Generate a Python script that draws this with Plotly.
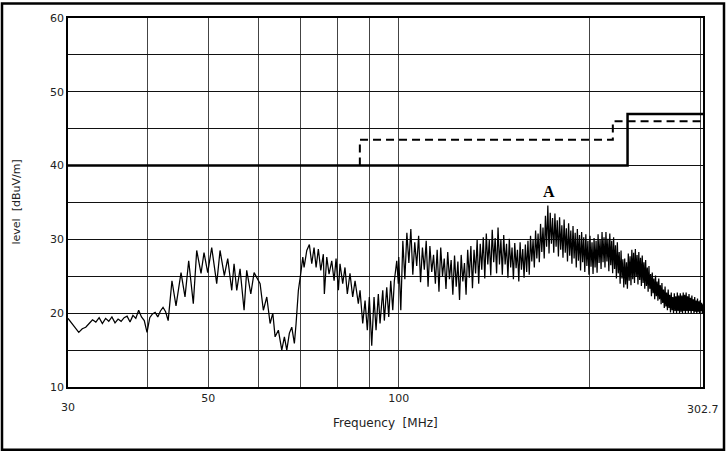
import numpy as np
import plotly.graph_objects as go

# emission trace, 30 - 100 MHz (read point by point)
freq_lo = [30.0, 30.4, 30.8, 31.2, 31.6, 32.0, 32.4, 32.8, 33.2, 33.6,
           34.0, 34.4, 34.8, 35.2, 35.6, 36.0, 36.4, 36.8, 37.2, 37.6,
           38.0, 38.4, 38.8, 39.2, 39.6, 40.0, 40.4, 40.8, 41.2, 41.6,
           42.0, 42.4, 42.8, 43.2,
           43.80, 44.45, 45.27, 45.93, 46.55, 47.34, 47.93, 48.69, 49.22, 49.89,
           50.62, 51.55, 52.18, 53.00, 53.66, 54.45, 54.91, 55.45, 56.12, 56.95,
           57.50, 58.36, 59.06, 60.37, 61.09, 61.86, 62.61, 63.23, 63.76, 64.52,
           65.33, 65.95, 66.53, 67.16, 67.75, 68.39, 68.82, 69.40, 70.00, 70.52,
           70.85, 71.55, 72.23, 72.86, 73.47, 74.02, 74.63, 75.29, 76.00, 76.28,
           76.95, 77.59, 78.36, 79.03, 79.60, 80.28, 80.75, 81.55, 82.23, 82.93,
           83.74, 84.57, 85.30, 86.32, 86.86, 87.71, 88.46, 89.19, 89.85, 90.64,
           91.40, 92.07, 92.84, 93.42, 94.35, 94.89, 95.73, 96.42, 97.13, 97.85,
           98.41, 99.28, 99.85]
level_lo = [19.3, 18.6, 18.0, 17.4, 17.9, 18.1, 18.6, 19.1, 18.8, 19.4,
            18.6, 19.3, 18.9, 19.5, 18.7, 19.2, 18.9, 19.4, 19.6, 18.8,
            19.7, 19.3, 20.4, 19.5, 19.0, 17.4, 19.4, 19.9, 20.1, 19.5,
            20.3, 20.8, 20.2, 19.0,
            24.4, 21.0, 25.5, 22.2, 27.1, 21.3, 28.5, 25.4, 28.2, 25.5,
            28.9, 24.0, 28.5, 25.1, 27.4, 23.1, 26.7, 23.1, 26.0, 20.4,
            25.8, 22.6, 25.5, 24.0, 20.4, 22.2, 18.6, 20.0, 16.8, 17.7,
            15.0, 16.8, 15.0, 17.3, 18.1, 15.9, 18.6, 23.1, 25.4, 27.6,
            26.2, 28.5, 29.3, 26.7, 28.9, 26.2, 28.7, 25.8, 28.0, 22.6,
            27.6, 25.3, 27.1, 24.4, 27.4, 23.1, 26.7, 24.0, 26.2, 22.6,
            25.4, 22.2, 24.4, 21.3, 23.1, 18.6, 21.7, 17.7, 22.2, 15.6,
            22.2, 17.7, 22.6, 18.6, 23.1, 19.0, 23.5, 19.5, 24.4, 20.4,
            24.4, 27.1, 24.0]

# emission trace, 100 - 302.7 MHz sweep (equally spaced points)
sweep_start, sweep_stop = 100.0, 302.7
level_hi = [27.6, 20.4, 29.8, 24.6, 30.9, 26.8, 31.4, 25.2, 29.6, 26.4,
            30.5, 24.2, 28.9, 25.9, 29.8, 23.6, 29.1, 25.6, 27.9, 24.0,
            28.6, 22.9, 28.9, 25.0, 27.4, 23.3, 28.3, 24.6, 27.2, 22.5,
            27.8, 23.6, 27.0, 21.8, 27.9, 24.3, 26.8, 22.5, 28.6, 24.8,
            29.1, 23.4, 28.6, 25.4, 29.9, 24.0, 29.4, 25.9, 30.3, 24.7,
            30.8, 26.6, 29.9, 25.1, 31.3, 26.9, 30.2, 25.4, 31.6, 26.6,
            30.0, 25.2, 30.6, 26.6, 29.4, 24.8, 30.1, 26.2, 28.9, 24.6,
            29.5, 26.1, 28.6, 24.3, 29.6, 25.9, 28.7, 24.8, 29.3, 25.6,
            29.8, 25.2, 30.5, 27.0, 29.9, 26.2, 31.2, 27.4, 30.8, 26.9,
            32.1, 28.3, 31.6, 27.4, 33.2, 29.0, 34.6, 28.1, 33.6, 29.4,
            32.9, 28.2, 33.5, 29.0, 32.6, 27.7, 33.0, 28.6, 31.9, 27.5,
            32.7, 28.2, 31.5, 27.0, 32.2, 27.8, 31.2, 26.7, 31.8, 27.4,
            30.9, 26.2, 31.4, 27.1, 30.6, 25.8, 31.0, 26.9, 30.3, 25.6,
            30.7, 26.4, 29.8, 25.2, 30.5, 26.3, 29.6, 25.3, 30.2, 26.2,
            29.8, 25.5, 30.7, 26.8, 30.0, 26.0, 31.0, 26.9, 30.3, 26.2,
            31.0, 27.0, 30.1, 25.7, 30.8, 26.5, 29.8, 25.4, 30.3, 26.0,
            29.2, 24.7, 29.6, 25.4, 28.3, 24.0, 28.5, 24.7, 27.3, 23.5,
            27.4, 23.9, 26.9, 23.3, 28.1, 24.4, 27.7, 23.8, 28.6, 24.6,
            28.2, 24.1, 28.7, 24.9, 27.9, 23.9, 28.3, 24.5, 27.5, 23.7,
            27.8, 24.1, 26.9, 23.3, 27.2, 23.7, 26.2, 22.9, 26.4, 23.3,
            25.3, 22.3, 25.5, 22.7, 24.7, 21.9, 25.1, 22.3, 24.3, 21.7,
            24.7, 21.9, 23.8, 21.2, 24.1, 21.4, 23.2, 20.7, 23.6, 20.9,
            22.8, 20.4, 23.2, 20.7, 22.5, 20.1, 22.8, 20.4, 22.2, 20.0,
            22.7, 20.3, 22.3, 19.9, 22.8, 20.3, 22.4, 19.9, 22.7, 20.2,
            22.4, 19.9, 22.8, 20.3, 22.5, 19.9, 22.8, 20.3, 22.3, 20.0,
            22.6, 20.3, 22.1, 19.9, 22.4, 20.3, 21.9, 19.9, 22.2, 20.2,
            21.7, 19.9, 22.0, 20.2, 21.6, 19.9, 21.8, 20.3, 21.4, 20.0, 21.2]

# limit lines
limit_solid_freq = [30, 230, 230, 302.7]
limit_solid_level = [40, 40, 47, 47]
limit_dash_freq = [86.8, 86.8, 218, 218, 302.7]
limit_dash_level = [40, 43.5, 43.5, 46, 46]

marker_freq, marker_level, marker_text = 172.9, 35.0, "A"

freq_hi = np.linspace(sweep_start, sweep_stop, len(level_hi))
freq = list(freq_lo) + list(freq_hi)
level = list(level_lo) + list(level_hi)

fig = go.Figure()
fig.add_trace(go.Scatter(x=freq, y=level, mode="lines",
                         line=dict(color="black", width=1.25)))
fig.add_trace(go.Scatter(x=limit_solid_freq, y=limit_solid_level, mode="lines",
                         line=dict(color="black", width=2.5)))
fig.add_trace(go.Scatter(x=limit_dash_freq, y=limit_dash_level, mode="lines",
                         line=dict(color="black", width=2, dash="8px,5px")))

x_grid = [40, 50, 60, 70, 80, 90, 100, 200, 300]
x_text = ["", "50", "", "", "", "", "100", "", ""]
y_grid = [10, 15, 20, 25, 30, 35, 40, 45, 50, 55, 60]
y_text = ["10", "", "20", "", "30", "", "40", "", "50", "", "60"]

tick_font = dict(family="DejaVu Sans", size=11, color="#222")

fig.update_xaxes(type="log", range=[np.log10(30), np.log10(302.7)],
                 tickvals=x_grid, ticktext=x_text, tickfont=tick_font,
                 showgrid=True, gridcolor="#444", gridwidth=1,
                 showline=True, linecolor="black", linewidth=1.5, mirror=True,
                 zeroline=False, ticks="")
fig.update_yaxes(range=[10, 60], tickvals=y_grid, ticktext=y_text, tickfont=tick_font,
                 showgrid=True, gridcolor="#111", gridwidth=1,
                 showline=True, linecolor="black", linewidth=1.5, mirror=True,
                 zeroline=False, ticks="")

fig.add_annotation(x=np.log10(30), y=0, xref="x", yref="paper", text="30",
                   showarrow=False, yanchor="top", yshift=-12, font=tick_font)
fig.add_annotation(x=np.log10(302.7), y=0, xref="x", yref="paper", text="302.7",
                   showarrow=False, yanchor="top", yshift=-14, font=tick_font)
fig.add_annotation(x=0.5, y=0, xref="paper", yref="paper", text="Frequency  [MHz]",
                   showarrow=False, yanchor="top", yshift=-27,
                   font=dict(family="DejaVu Sans", size=12, color="#222"))
fig.add_annotation(x=0, y=0.5, xref="paper", yref="paper", text="level  [dBuV/m]",
                   showarrow=False, textangle=-90, xanchor="center", xshift=-52,
                   font=dict(family="DejaVu Sans", size=11, color="#222"))
fig.add_annotation(x=np.log10(marker_freq), y=marker_level, text="<b>" + marker_text + "</b>",
                   showarrow=False, yanchor="bottom", yshift=1,
                   font=dict(family="Liberation Serif", size=16, color="black"))

# outer frame of the picture
fig.add_shape(type="rect", xref="paper", yref="paper",
              x0=(2 - 68) / 635, x1=(724 - 68) / 635,
              y0=(387 - 450) / 371, y1=(387 - 1.5) / 371,
              line=dict(color="black", width=2.5))

fig.update_layout(width=726, height=452, margin=dict(l=68, r=23, t=16, b=65),
                  plot_bgcolor="white", paper_bgcolor="white", showlegend=False)

# drop the default page margin so the figure sits at the window corner
fig.write_html("out.html", config={"displayModeBar": False},
               post_script="document.body.style.margin='0';"
                           "document.body.style.overflow='hidden';")
